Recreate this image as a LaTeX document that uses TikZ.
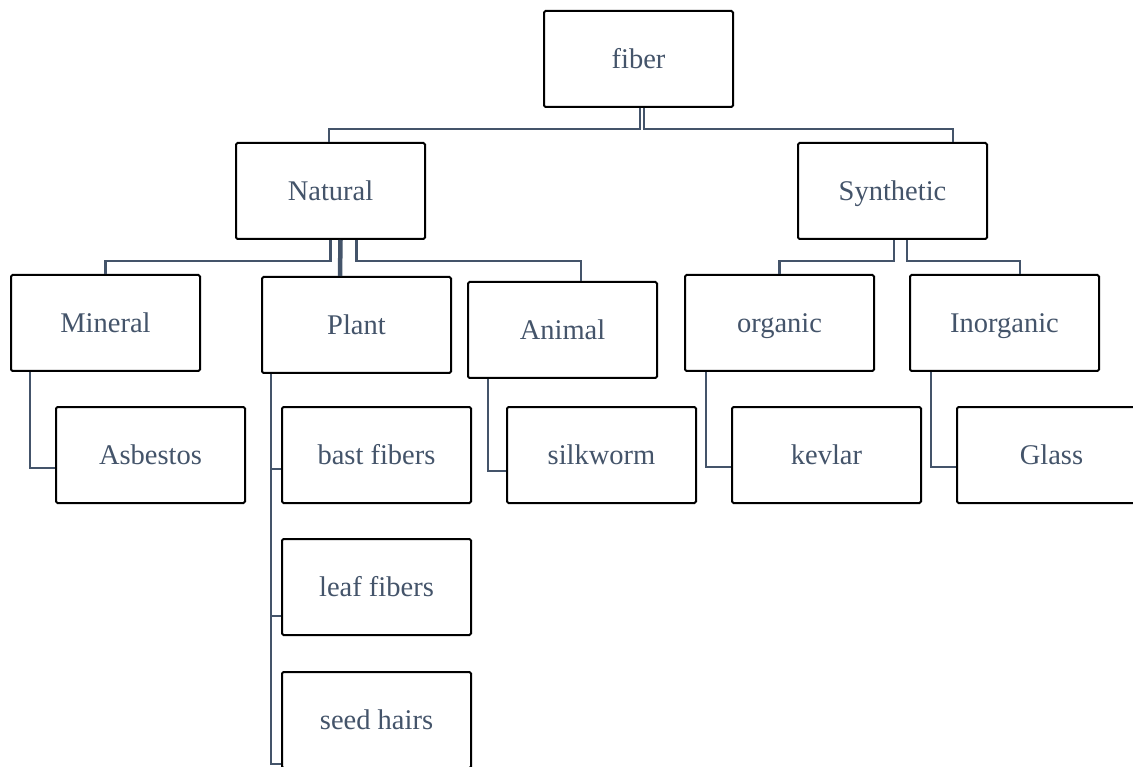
\documentclass[tikz,border=0pt]{standalone}
\usepackage{fontspec}
\setmainfont{Liberation Serif}
\newfontfamily\tnrfont{Liberation Serif}
\usetikzlibrary{calc}
\definecolor{txt}{HTML}{44546A}
\begin{document}
\begin{tikzpicture}[x=1pt,y=-1pt,
  box/.style={draw=black,line width=2pt,rounded corners=1.5pt,fill=white,
    minimum width=189pt,minimum height=96pt,inner sep=0pt,
    text height=22pt,text depth=3pt,
    font=\tnrfont\fontsize{28.5}{34}\selectfont,text=txt,anchor=north west},
  conn/.style={draw=txt,line width=2.3pt}]
\useasboundingbox (0,0) rectangle (1133,767);
% level 0
\node[box] (fiber) at (543,10) {fiber};
% level 1
\node[box] (natural) at (235,142) {Natural};
\node[box] (synthetic) at (797,142) {Synthetic};
% level 2
\node[box] (mineral) at (10,274) {Mineral};
\node[box] (plant) at (261,276) {Plant};
\node[box] (animal) at (467,281) {Animal};
\node[box] (organic) at (684,274) {organic};
\node[box] (inorganic) at (909,274) {Inorganic};
% level 3
\node[box] (asbestos) at (55,406) {Asbestos};
\node[box] (bast) at (281,406) {bast fibers};
\node[box] (leaf) at (281,538) {leaf fibers};
\node[box] (seed) at (281,671) {seed hairs};
\node[box] (silkworm) at (506,406) {silkworm};
\node[box] (kevlar) at (731,406) {kevlar};
\node[box] (glass) at (956,406) {Glass};
% connectors level 0 -> 1
\draw[conn] ($(fiber.south)+(1.5,0)$) -- ++(0,21) -| ($(natural.north)+(-1.5,0)$);
\draw[conn] ($(fiber.south)+(5.5,0)$) -- ++(0,21) -| ($(synthetic.north)+(60.5,0)$);
% connectors Natural -> children
\draw[conn] (natural.south) -- ++(0,21) -| (mineral.north);
\draw[conn,line width=4.5pt] ($(natural.south)+(10,0)$) -- ($(plant.north)+(-16.5,0)$);
\draw[conn] ($(natural.south)+(26,0)$) -- ++(0,21) -| ($(animal.north)+(18.5,0)$);
% connectors Synthetic -> children
\draw[conn] ($(synthetic.south)+(1.5,0)$) -- ++(0,21) -| (organic.north);
\draw[conn] ($(synthetic.south)+(14.5,0)$) -- ++(0,21) -| ($(inorganic.north)+(15.5,0)$);
% connectors level 2 -> 3
\draw[conn] ($(mineral.south west)+(20,0)$) |- ($(asbestos.west)+(0,13)$);
\draw[conn] ($(plant.south west)+(10,0)$) |- ($(bast.west)+(0,14)$);
\draw[conn] ($(plant.south west)+(10,0)$) |- ($(leaf.west)+(0,29)$);
\draw[conn] ($(plant.south west)+(10,0)$) |- ($(seed.west)+(0,44)$);
\draw[conn] ($(animal.south west)+(21,0)$) |- ($(silkworm.west)+(0,16)$);
\draw[conn] ($(organic.south west)+(22,0)$) |- ($(kevlar.west)+(0,12)$);
\draw[conn] ($(inorganic.south west)+(22,0)$) |- ($(glass.west)+(0,12)$);
\end{tikzpicture}
\end{document}
